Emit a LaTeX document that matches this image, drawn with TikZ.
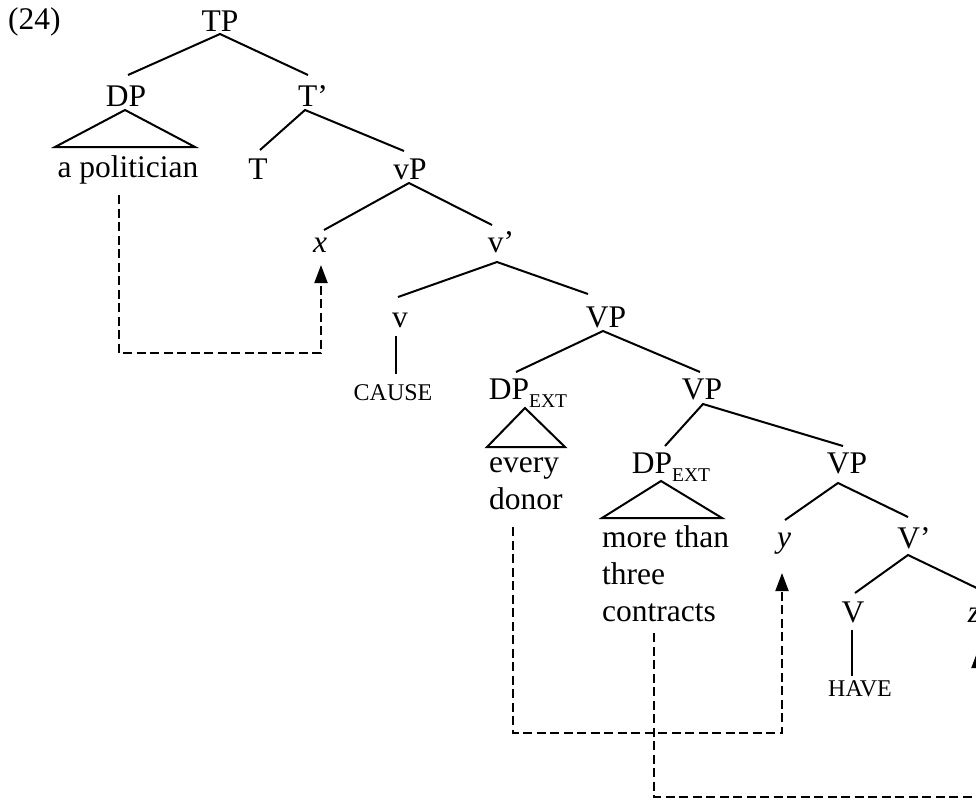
\documentclass[tikz,border=0pt]{standalone}
\usepackage{fontspec}
\setmainfont{Liberation Serif}
\usetikzlibrary{calc,arrows.meta}
\newcommand{\ext}{\raisebox{-8pt}{\fontsize{19.5}{20}\selectfont EXT}}
\newcommand{\stack}[1]{\begin{tabular}[t]{@{}l@{}}#1\end{tabular}}
\begin{document}
\begin{tikzpicture}[x=1pt,y=-1pt,
  lbl/.style={anchor=base,inner sep=0pt,font=\fontsize{31.5}{37}\selectfont},
  sc/.style={anchor=base,inner sep=0pt,font=\fontsize{24}{28}\selectfont},
  branch/.style={line width=2pt},
  move/.style={line width=2pt,dash pattern=on 9pt off 4.5pt,
    -{Triangle[length=18pt,width=13pt]}},
]
\clip (0,0) rectangle (976,801);

% labels
\node[lbl,anchor=base west] (ex) at (8,29) {(24)};
\node[lbl] (TP) at (220,31) {TP};
\node[lbl] (DP) at (126,106) {DP};
\node[lbl] (Tb) at (313,106) {T’};
\node[lbl] (pol) at (128,177) {a politician};
\node[lbl] (T) at (258,179) {T};
\node[lbl] (vP) at (410,179) {vP};
\node[lbl] (x) at (320,252) {\itshape x};
\node[lbl] (vb) at (501,252) {v’};
\node[lbl] (v) at (400,327) {v};
\node[sc]  (cause) at (393,400) {CAUSE};
\node[lbl] (VPa) at (606,327) {VP};
\node[lbl] (DPa) at (528,399) {DP\ext};
\node[lbl] (VPb) at (702,399) {VP};
\node[lbl,anchor=base west] (donor) at (489,472) {\stack{every\\donor}};
\node[lbl] (DPb) at (671,473) {DP\ext};
\node[lbl,anchor=base west] (mtc) at (602,547) {\stack{more than\\three\\contracts}};
\node[lbl] (VPc) at (847,473) {VP};
\node[lbl] (y) at (784,547) {\itshape y};
\node[lbl] (Vb) at (914,548) {V’};
\node[lbl] (V) at (853,622) {V};
\node[lbl] (z) at (974,622) {\itshape z};
\node[sc]  (have) at (860,696) {HAVE};

% branches
\draw[branch] ($(DP.base)+(2,-31)$) -- ($(TP.base)+(0,3)$) -- ($(Tb.base)+(-5,-31)$);
\draw[branch] ($(T.base)+(2,-29)$) -- ($(Tb.base)+(-8,4)$) -- ($(vP.base)+(-6,-28)$);
\draw[branch] ($(x.base)+(4,-22)$) -- ($(vP.base)+(-1,4)$) -- ($(vb.base)+(-9,-27)$);
\draw[branch] ($(v.base)+(-2,-30)$) -- ($(vb.base)+(-4,10)$) -- ($(VPa.base)+(-18,-33)$);
\draw[branch] ($(DPa.base)+(-12,-27)$) -- ($(VPa.base)+(-3,4)$) -- ($(VPb.base)+(-2,-27)$);
\draw[branch] ($(DPb.base)+(-6,-27)$) -- ($(VPb.base)+(1,5)$) -- ($(VPc.base)+(-4,-27)$);
\draw[branch] ($(y.base)+(1,-27)$) -- ($(VPc.base)+(-9,10)$) -- ($(Vb.base)+(-6,-31)$);
\draw[branch] ($(V.base)+(2,-29)$) -- ($(Vb.base)+(-6,7)$) -- ($(z.base)+(11,-30)$);
\draw[branch] ($(v.base)+(-4,9)$) -- ($(cause.base)+(3,-26)$);
\draw[branch] ($(V.base)+(-1,8)$) -- ($(have.base)+(-8,-20)$);

% triangles over phrases
\draw[branch,line join=miter] ($(DP.base)+(-1,4)$) -- ($(DP.base)+(-71,41)$) -- ($(DP.base)+(69,41)$) -- cycle;
\draw[branch,line join=miter] ($(DPa.base)+(-3,9)$) -- ($(DPa.base)+(-41,48)$) -- ($(DPa.base)+(37,48)$) -- cycle;
\draw[branch,line join=miter] ($(DPb.base)+(-10,8)$) -- ($(DPb.base)+(-69,45)$) -- ($(DPb.base)+(51,45)$) -- cycle;

% movement paths
\draw[move] ($(pol.base)+(-9,18)$) |- ($(x.base)+(1,101)$) -- ($(x.base)+(1,13)$);
\draw[move] ($(donor.base west)+(24,55)$) |- ($(y.base)+(-2,186)$) -- ($(y.base)+(-2,26)$);
\draw[move] ($(mtc.base west)+(52,86)$) |- ($(z.base)+(4,175)$) -- ($(z.base)+(4,28)$);
\end{tikzpicture}
\end{document}
